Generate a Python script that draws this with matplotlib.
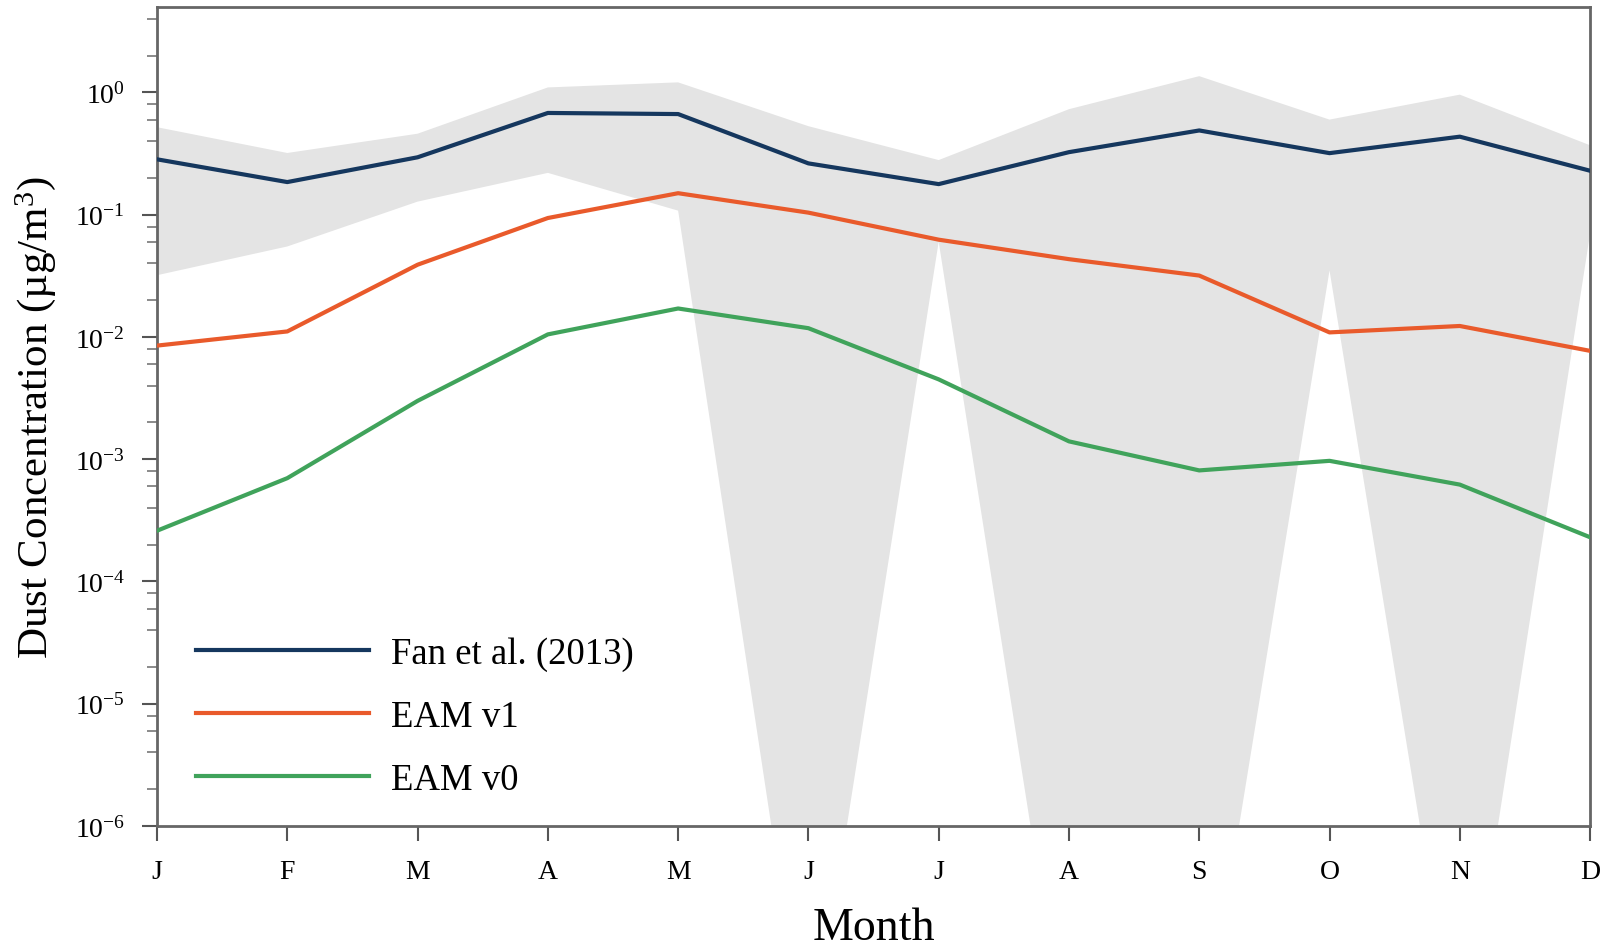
import matplotlib
matplotlib.use('Agg')
import matplotlib.pyplot as plt
from matplotlib.ticker import LogLocator, NullFormatter
import numpy as np

# 月均沙尘浓度 (µg/m³)
months = ['J', 'F', 'M', 'A', 'M', 'J', 'J', 'A', 'S', 'O', 'N', 'D']

fan_2013 = [0.284, 0.185, 0.295, 0.68, 0.666, 0.263, 0.178, 0.325, 0.489, 0.319, 0.435, 0.229]
fan_upper = [0.52, 0.32, 0.46, 1.1, 1.21, 0.53, 0.28, 0.73, 1.36, 0.6, 0.96, 0.37]
fan_lower = [0.032, 0.055, 0.128, 0.22, 0.108, 1e-8, 0.06, 1e-8, 1e-8, 0.035, 1e-8, 0.07]

eam_v1 = [0.0085, 0.0111, 0.039, 0.094, 0.15, 0.104, 0.0625, 0.0433, 0.0318, 0.0109, 0.0123, 0.0077]
eam_v0 = [2.6e-4, 7.0e-4, 3.0e-3, 0.0105, 0.0171, 0.0118, 0.0045, 0.0014, 8.1e-4, 9.7e-4, 6.2e-4, 2.3e-4]

plt.rcParams['font.family'] = ['Liberation Serif', 'DejaVu Serif']
plt.rcParams['mathtext.fontset'] = 'custom'
plt.rcParams['mathtext.rm'] = 'Liberation Serif'
plt.rcParams['mathtext.it'] = 'Liberation Serif:italic'
plt.rcParams['axes.unicode_minus'] = False

x = np.arange(len(months))

fig = plt.figure(figsize=(16.12, 9.45), dpi=100)
ax = fig.add_axes([0.0974, 0.1249, 0.889, 0.8666])

# 观测范围 (阴影) + 三条曲线
ax.fill_between(x, fan_lower, fan_upper, color='#e4e4e4', linewidth=0, zorder=1)
ax.plot(x, fan_2013, color='#15375e', linewidth=3, label='Fan et al. (2013)', zorder=3)
ax.plot(x, eam_v1, color='#e95a2b', linewidth=3, label='EAM v1', zorder=3)
ax.plot(x, eam_v0, color='#40a35b', linewidth=3, label='EAM v0', zorder=3)

ax.set_yscale('log')
ax.set_ylim(1e-6, 5)
ax.set_xlim(0, 11)
ax.set_xticks(x)
ax.set_xticklabels(months)
ax.yaxis.set_major_locator(LogLocator(base=10, numticks=20))
ax.yaxis.set_minor_locator(LogLocator(base=10, subs=(2, 4, 6, 8), numticks=20))
ax.yaxis.set_minor_formatter(NullFormatter())

ax.set_xlabel('Month', fontsize=33, labelpad=16)
ax.set_ylabel('Dust Concentration (µg/m$^3$)', fontsize=31, labelpad=12)

for s in ax.spines.values():
    s.set_color('#666666')
    s.set_linewidth(2)
ax.tick_params(axis='both', which='major', direction='out', length=11, width=1.5,
               color='#555555', labelsize=20)
ax.tick_params(axis='y', which='major', pad=12)
ax.tick_params(axis='y', which='minor', direction='out', length=7, width=1.2, color='#777777')
ax.tick_params(axis='x', which='major', pad=13)

ax.legend(loc='lower left', bbox_to_anchor=(0.004, -0.005), frameon=False, fontsize=26.5,
          handlelength=4.7, handletextpad=0.6, labelspacing=0.77)

fig.savefig('out.png', dpi=100)
